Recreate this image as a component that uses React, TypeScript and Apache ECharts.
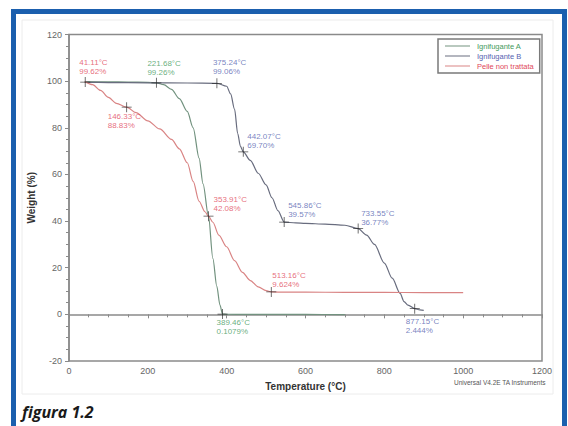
import React, { useEffect, useRef } from "react";
import * as echarts from "echarts";

// Curve data (temperature °C, weight %)
const redT = [40, 41.11, 60, 80, 100, 120, 146.33, 170, 200, 230, 260, 280, 300, 315, 330, 345, 353.91, 365, 380, 400, 420, 440, 460, 480, 500, 513.16, 550, 600, 700, 800, 900, 1000];
const redW = [99.8, 99.62, 98.5, 96, 93, 90.5, 88.83, 86.5, 83, 79.5, 75, 71, 65, 57, 48.5, 44, 42.08, 39.5, 34, 29, 23, 18, 14.5, 11.8, 10.2, 9.624, 9.5, 9.5, 9.45, 9.4, 9.35, 9.3];

const greenT = [40, 100, 150, 200, 221.68, 240, 260, 280, 300, 315, 330, 340, 353.91, 365, 375, 383, 389.46, 400, 450, 500, 600, 700];
const greenW = [99.8, 99.7, 99.6, 99.5, 99.26, 98.5, 96.5, 92.5, 87, 80, 67, 56, 42.08, 24, 12, 4, 0.1079, 0.05, 0.02, 0, -0.05, -0.1];

const blueT = [40, 100, 200, 300, 375.24, 400, 410, 420, 428, 435, 442.07, 460, 480, 500, 515, 530, 545.86, 575, 600, 650, 700, 733.55, 755, 775, 800, 820, 840, 850, 860, 877.15, 890, 900];
const blueW = [99.5, 99.4, 99.3, 99.2, 99.06, 97.8, 94.5, 88, 77.5, 72, 69.7, 66, 60.5, 55.5, 50, 44.5, 39.57, 39.2, 39, 38.7, 38.2, 36.77, 34, 30, 22, 15.5, 9, 5.5, 4, 2.444, 1.9, 1.7];

const seriesNames = ["Ignifugante A", "Ignifugante B", "Pelle non trattata"];

// Annotated points
const annT = [41.11, 221.68, 375.24, 146.33, 442.07, 353.91, 545.86, 733.55, 513.16, 389.46, 877.15];
const annW = [99.62, 99.26, 99.06, 88.83, 69.7, 42.08, 39.57, 36.77, 9.624, 0.1079, 2.444];
const annDecimals = [2, 2, 2, 2, 2, 2, 2, 2, 3, 4, 3];
const annSeries = [2, 0, 1, 2, 1, 2, 1, 1, 2, 0, 1];

// Label offsets (style only, px)
const annOffset: [number, number][] = [
  [-6, -24], [-9, -24], [-4, -25], [-19, 5], [4, -20], [5, -21], [4, -21], [3, -20], [1, -21], [-6, 4], [-9, 8],
];

const lineColors = ["#72927f", "#686c7e", "#d98484"];
const labelColors = ["#3f9a5c", "#5563b0", "#e0485a"];

const xTicks = { min: 0, max: 1200, interval: 200 };
const yTicks = { min: -20, max: 120, interval: 20 };

export default function App() {
  const ref = useRef<HTMLDivElement>(null);
  useEffect(() => {
    if (!ref.current) return;
    const chart = echarts.init(ref.current, undefined, { renderer: "svg" });
    const zip = (a: number[], b: number[]) => a.map((v, i) => [v, b[i]]);
    const curves = [zip(greenT, greenW), zip(blueT, blueW), zip(redT, redW)];
    const crossPath = "path://M0,4.6H10V5.4H0Z M4.6,0H5.4V10H4.6Z";
    const font = "Liberation Sans, Arial, sans-serif";

    const lineSeries = curves.map((d, i) => ({
      name: seriesNames[i],
      type: "line",
      data: d,
      showSymbol: false,
      smooth: 0.3,
      smoothMonotone: "x",
      lineStyle: { color: lineColors[i], width: 1.2 },
      itemStyle: { color: lineColors[i] },
      z: 2,
    }));

    const annSeriesList = [0, 1, 2].map((s) => ({
      name: "ann" + s,
      type: "scatter",
      symbol: crossPath,
      symbolSize: 10,
      itemStyle: { color: "#222" },
      z: 5,
      data: annT
        .map((t, i) => ({ t, i }))
        .filter((o) => annSeries[o.i] === s)
        .map(({ t, i }) => ({
          value: [t, annW[i]],
          label: {
            show: true,
            position: "inside",
            align: "left",
            verticalAlign: "top",
            offset: annOffset[i],
            formatter: `${t.toFixed(2)}°C\n${annW[i].toFixed(annDecimals[i])}%`,
            color: labelColors[s],
            fontSize: 8,
            lineHeight: 9,
            fontFamily: font,
          },
        })),
    }));

    chart.setOption({
      animation: false,
      backgroundColor: "#ffffff",
      grid: {
        left: 69,
        right: 26,
        top: 34.5,
        bottom: 65,
        show: true,
        borderColor: "#8a8a8a",
        borderWidth: 1.5,
      },
      legend: {
        left: 438,
        top: 39,
        orient: "vertical",
        icon: "rect",
        itemWidth: 25,
        itemHeight: 1,
        itemGap: 2,
        padding: [3, 6, 3, 7],
        borderColor: "#7a7a7a",
        borderWidth: 1.5,
        data: seriesNames.map((n, i) => ({ name: n, textStyle: { color: labelColors[i] } })),
        textStyle: { fontSize: 7.5, fontFamily: font, padding: [0, 0, 0, 2] },
      },
      xAxis: {
        type: "value",
        ...xTicks,
        name: "Temperature (°C)",
        nameLocation: "middle",
        nameGap: 20,
        nameTextStyle: { fontSize: 10, fontWeight: "bold", color: "#333", fontFamily: font },
        axisLine: { lineStyle: { color: "#8a8a8a", width: 1.5 } },
        axisTick: { length: 4, lineStyle: { color: "#8a8a8a" } },
        minorTick: { show: true, splitNumber: 4, length: 3, lineStyle: { color: "#8a8a8a" } },
        splitLine: { show: false },
        axisLabel: { fontSize: 9, color: "#666", margin: 5, fontFamily: font, formatter: (v: number) => String(v) },
      },
      yAxis: {
        type: "value",
        ...yTicks,
        name: "Weight (%)",
        nameLocation: "middle",
        nameGap: 33,
        nameTextStyle: { fontSize: 10, fontWeight: "bold", color: "#333", fontFamily: font },
        axisLine: { show: true, lineStyle: { color: "#8a8a8a", width: 1.5 } },
        axisTick: { show: true, length: 4, lineStyle: { color: "#8a8a8a" } },
        minorTick: { show: true, splitNumber: 4, length: 3, lineStyle: { color: "#8a8a8a" } },
        splitLine: { show: false },
        axisLabel: { fontSize: 9, color: "#666", margin: 7, fontFamily: font, formatter: (v: number) => String(v) },
      },
      graphic: [
        {
          type: "rect",
          shape: { x: 22, y: 20, width: 531, height: 374 },
          style: { fill: "none", stroke: "#ececec", lineWidth: 1 },
          silent: true,
        },
        {
          type: "rect",
          shape: { x: 13.5, y: 11.5, width: 551, height: 430 },
          style: { fill: "none", stroke: "#1b5fae", lineWidth: 5 },
          silent: true,
        },
        {
          type: "text",
          right: 22,
          top: 379,
          style: { text: "Universal V4.2E TA Instruments", fontSize: 6.5, fill: "#555", fontFamily: font },
          silent: true,
        },
        {
          type: "text",
          left: 22,
          top: 404,
          style: { text: "figura 1.2", fontSize: 16, fontWeight: "bold", fontStyle: "italic", fill: "#1a1a1a", fontFamily: "Open Sans, sans-serif" },
          silent: true,
        },
      ],
      series: [...lineSeries, ...annSeriesList],
    });
    return () => chart.dispose();
  }, []);
  return <div ref={ref} style={{ position: "absolute", left: 0, top: 0, width: 568, height: 426 }} />;
}
